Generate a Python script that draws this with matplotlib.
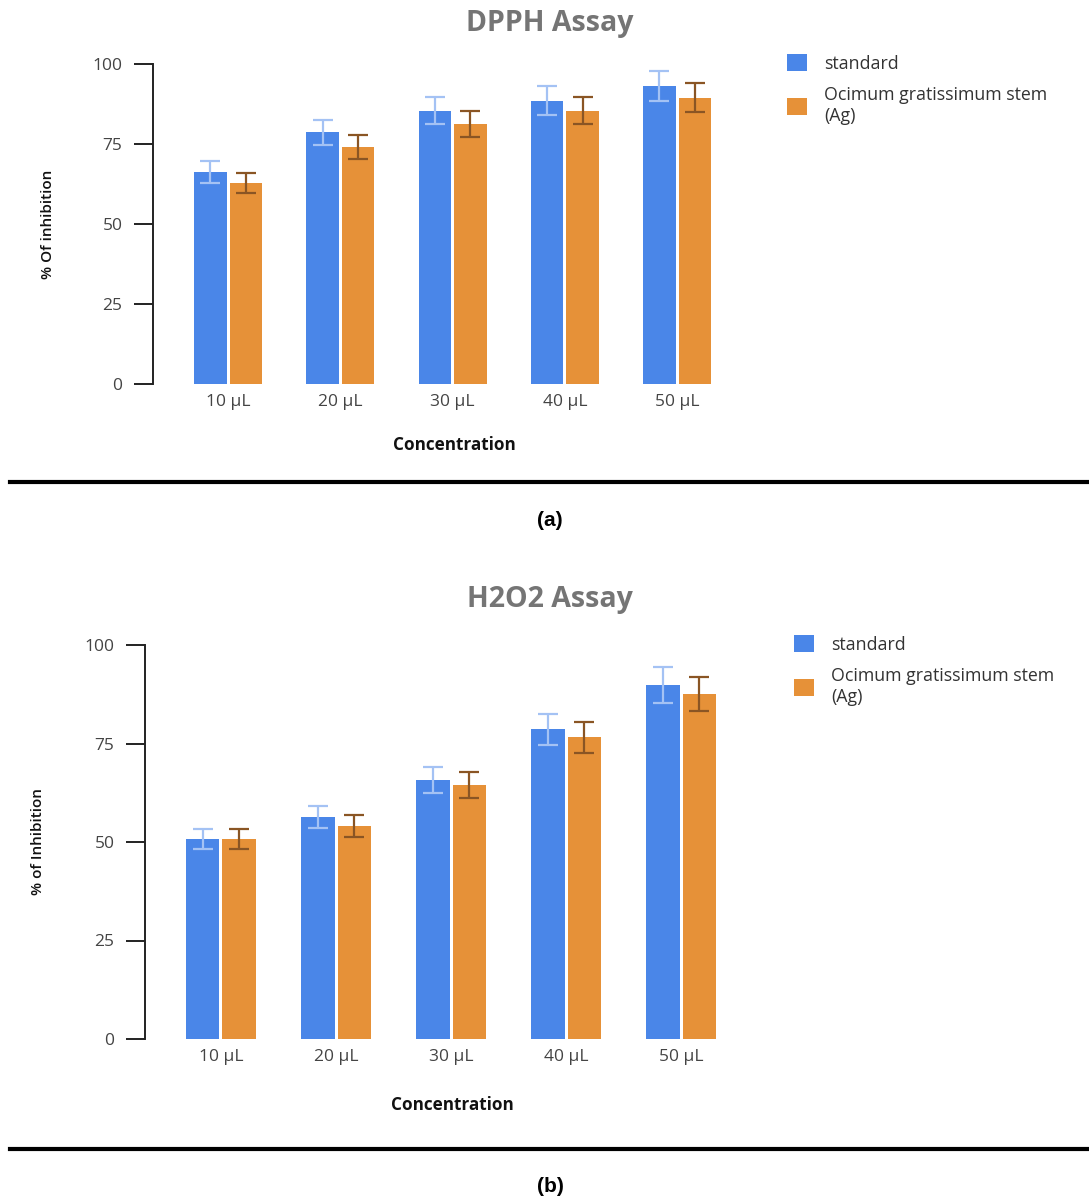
import matplotlib
matplotlib.use("Agg")
import matplotlib.pyplot as plt
import numpy as np
from matplotlib.patches import Patch
from matplotlib.lines import Line2D

plt.rcParams['font.family'] = ['Open Sans', 'DejaVu Sans']

categories = ["10 μL", "20 μL", "30 μL", "40 μL", "50 μL"]
series_names = ["standard", "Ocimum gratissimum stem\n(Ag)"]

dpph_standard = [66.3, 78.6, 85.4, 88.5, 93.2]
dpph_standard_err = [3.4, 4.0, 4.3, 4.5, 4.7]
dpph_sample = [62.7, 74.1, 81.3, 85.4, 89.5]
dpph_sample_err = [3.1, 3.7, 4.0, 4.3, 4.5]

h2o2_standard = [50.8, 56.4, 65.7, 78.6, 89.8]
h2o2_standard_err = [2.6, 2.8, 3.3, 4.0, 4.5]
h2o2_sample = [50.8, 54.1, 64.5, 76.6, 87.5]
h2o2_sample_err = [2.6, 2.8, 3.3, 3.9, 4.3]

yticks = [0, 25, 50, 75, 100]

BLUE = "#4A86E8"
ORANGE = "#E69138"
BLUE_ERR = "#A4C2F4"
ORANGE_ERR = "#8A5524"
TITLE_GREY = "#757575"
TICK_GREY = "#444444"

W, H = 1089, 1201
fig = plt.figure(figsize=(W / 100, H / 100), dpi=100)


def fx(px):
    return px / W


def fy(py):
    return 1 - py / H


def draw_panel(rect, xlim, title, ylabel, std, std_err, smp, smp_err,
               title_y, xlabel_x, xlabel_y, ylabel_x, legend_anchor):
    ax = fig.add_axes(rect)
    x = np.arange(len(categories))
    bw = 0.29
    off = 0.158
    ax.bar(x - off, std, width=bw, color=BLUE, zorder=2)
    ax.bar(x + off, smp, width=bw, color=ORANGE, zorder=2)
    ax.errorbar(x - off, std, yerr=std_err, fmt='none', ecolor=BLUE_ERR,
                elinewidth=1.6, capsize=7.0, capthick=1.6, zorder=3)
    ax.errorbar(x + off, smp, yerr=smp_err, fmt='none', ecolor=ORANGE_ERR,
                elinewidth=1.6, capsize=7.0, capthick=1.6, zorder=3)
    ax.set_xlim(*xlim)
    ax.set_ylim(0, 100)
    ax.set_yticks(yticks)
    ax.set_xticks(x)
    ax.set_xticklabels(categories)
    for s in ['top', 'right', 'bottom']:
        ax.spines[s].set_visible(False)
    ax.spines['left'].set_linewidth(1.4)
    ax.spines['left'].set_color('#222222')
    ax.tick_params(axis='y', length=14, width=1.4, color='#222222',
                   labelsize=12.5, labelcolor=TICK_GREY, pad=8)
    ax.tick_params(axis='x', length=0, labelsize=12.5, labelcolor=TICK_GREY, pad=7)
    fig.text(0.505, fy(title_y), title, ha='center', va='center',
             fontsize=20.5, fontweight='bold', color=TITLE_GREY)
    fig.text(fx(xlabel_x), fy(xlabel_y), "Concentration", ha='center', va='center',
             fontsize=12.3, fontweight='bold', color='#111111')
    fig.text(fx(ylabel_x), rect[1] + rect[3] / 2, ylabel, rotation=90,
             ha='center', va='center', fontsize=11, color='#111111',
             fontweight='semibold')
    handles = [Patch(facecolor=BLUE, edgecolor='none'),
               Patch(facecolor=ORANGE, edgecolor='none')]
    fig.legend(handles, series_names, loc='upper left',
               bbox_to_anchor=legend_anchor, frameon=False, fontsize=12.8,
               handlelength=1.1, handleheight=1.1, handletextpad=1.0,
               labelspacing=0.75, borderaxespad=0, borderpad=0,
               labelcolor='#333333')
    return ax


# Panel (a)
draw_panel([fx(153), fy(384), fx(740 - 153), (384 - 64) / H],
           (-0.67, 4.56), "DPPH Assay", "% Of inhibition",
           dpph_standard, dpph_standard_err, dpph_sample, dpph_sample_err,
           title_y=24, xlabel_x=454, xlabel_y=445, ylabel_x=48,
           legend_anchor=(fx(787), fy(54)))

# Panel (b)
draw_panel([fx(145), fy(1039), fx(740 - 145), (1039 - 645) / H],
           (-0.66, 4.51), "H2O2 Assay", "% of Inhibition",
           h2o2_standard, h2o2_standard_err, h2o2_sample, h2o2_sample_err,
           title_y=600, xlabel_x=452, xlabel_y=1105, ylabel_x=38,
           legend_anchor=(fx(794), fy(635)))

# separator lines and panel labels
for ly in (482, 1149):
    fig.add_artist(Line2D([fx(10), 1.0], [fy(ly), fy(ly)], color='black',
                          linewidth=3.0, transform=fig.transFigure))
fig.text(0.505, fy(521), "(a)", ha='center', va='center', fontsize=15,
         fontweight='bold', family='Liberation Sans', color='black')
fig.text(0.505, fy(1187), "(b)", ha='center', va='center', fontsize=15,
         fontweight='bold', family='Liberation Sans', color='black')

fig.savefig("out.png", dpi=100, facecolor='white')
